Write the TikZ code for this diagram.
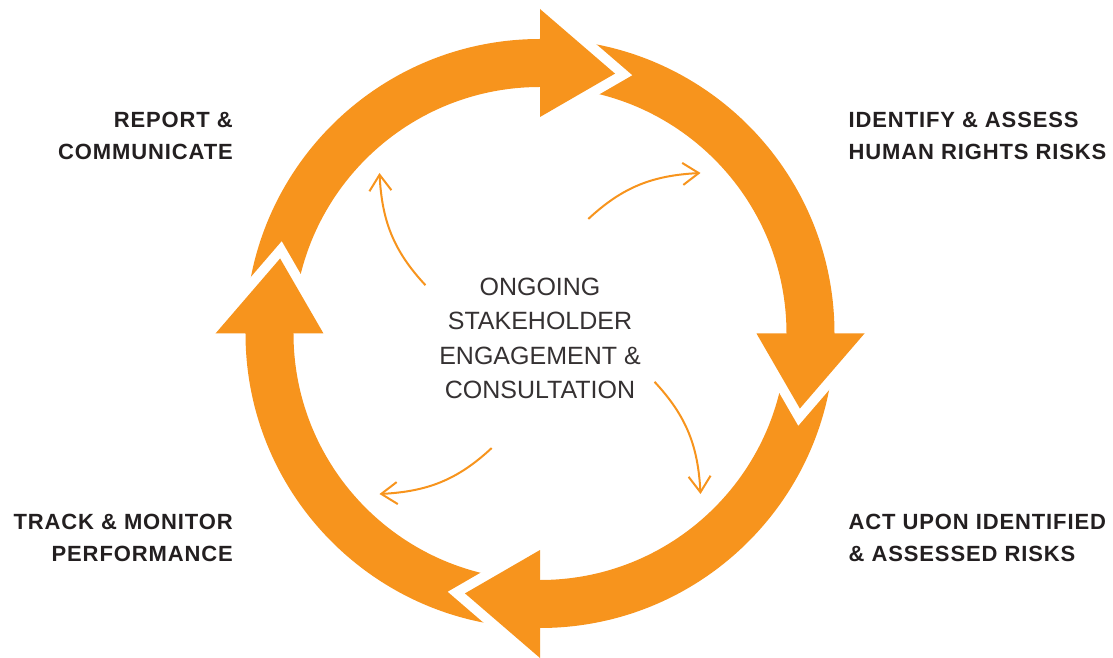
\documentclass[tikz,border=0pt]{standalone}
\usepackage{fontspec}
\setmainfont{Liberation Sans}
\newfontfamily\labelfont[LetterSpace=4]{Liberation Sans}
\usetikzlibrary{arrows.meta}
\definecolor{ringorange}{HTML}{F7941D}
\definecolor{inkdark}{HTML}{231F20}
\tikzset{
  ringfill/.style={fill=ringorange},
  gapline/.style={draw=white, line width=20pt, line join=miter, miter limit=10},
  flow/.style={draw=ringorange, line width=2pt,
    -{Straight Barb[length=16pt,width=22pt,line join=miter]}},
  steplabel/.style={inner sep=0pt, text=inkdark,
    font=\labelfont\bfseries\fontsize{22}{32}\selectfont},
  hubtext/.style={inner sep=0pt, text=inkdark!92, align=center,
    font=\fontsize{25}{34.5}\selectfont},
}
\begin{document}
\begin{tikzpicture}[x=1pt,y=1pt]
  \useasboundingbox (-540,-324.5) rectangle (573,333.5);

  % the ring
  \fill[ringorange, even odd rule] (0,0) circle (294.5) (0,0) circle (246.5);

  % four arrowheads, each cut free from the band ahead of it by a white gap
  \foreach \k in {0,1,2,3}{
    \pgfmathsetmacro\ab{90-90*\k}
    \pgfmathsetmacro\at{73.9-90*\k}
    \coordinate (ob\k) at (\ab:324.5);
    \coordinate (tip\k) at (\at:270.5);
    \coordinate (ib\k) at (\ab:216.5);
    \draw[gapline] (ob\k) -- (tip\k) -- (ib\k);
    \fill[ringfill] (ob\k) -- (tip\k) -- (ib\k) -- cycle;
  }

  % centre text
  \node[hubtext] (hub) at (0,-5) {ONGOING\\STAKEHOLDER\\ENGAGEMENT \&\\CONSULTATION};

  % thin arrows flowing out from the centre
  \foreach \k in {0,1,2,3}{
    \pgfmathsetmacro\as{67.13-90*\k}
    \pgfmathsetmacro\ae{45-90*\k}
    \pgfmathsetmacro\ao{43-90*\k}
    \pgfmathsetmacro\ai{183-90*\k}
    \coordinate (fs\k) at (\as:124.3);
    \coordinate (fe\k) at (\ae:227);
    \draw[flow] (fs\k) to[out=\ao, in=\ai] (fe\k);
  }

  % step labels
  \node[steplabel, anchor=east, align=right] (report) at (-307,197.5)
    {REPORT \&\\COMMUNICATE};
  \node[steplabel, anchor=west, align=left] (identify) at (308.5,197.5)
    {IDENTIFY \& ASSESS\\HUMAN RIGHTS RISKS};
  \node[steplabel, anchor=west, align=left] (act) at (308.5,-204)
    {ACT UPON IDENTIFIED\\\& ASSESSED RISKS};
  \node[steplabel, anchor=east, align=right] (track) at (-307,-204)
    {TRACK \& MONITOR\\PERFORMANCE};
\end{tikzpicture}
\end{document}
